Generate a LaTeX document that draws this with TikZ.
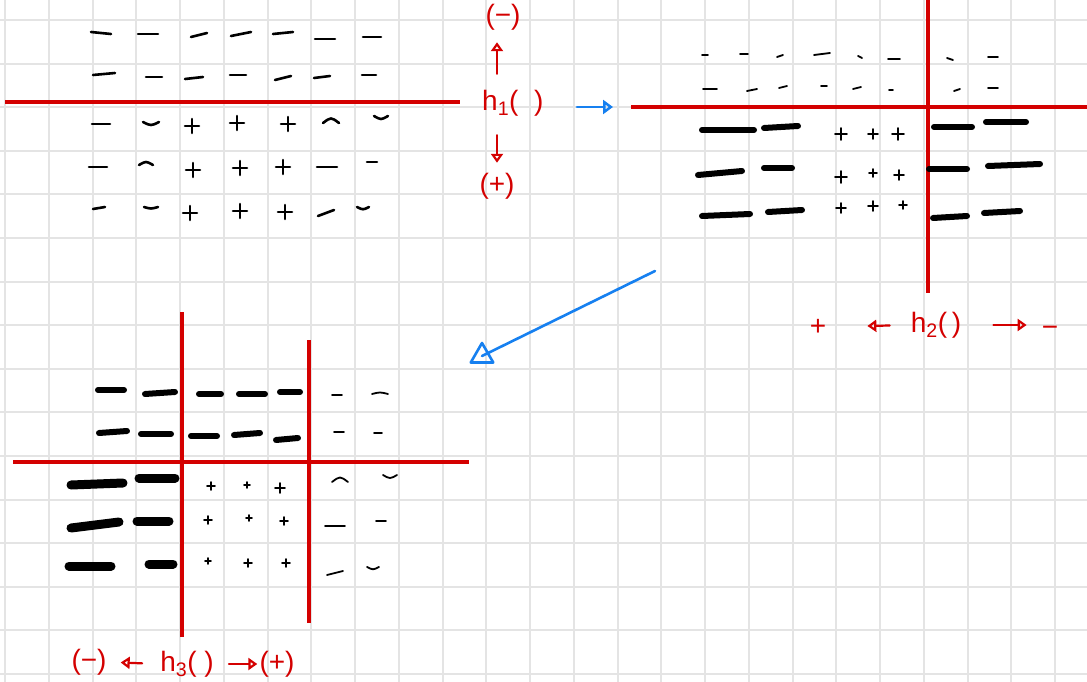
\documentclass[tikz,border=0pt]{standalone}
\usepackage{fontspec}
\setmainfont{Liberation Sans}
\usepackage{xcolor}
\usepackage{tikz}
\usetikzlibrary{arrows.meta, calc, shapes.geometric}
\definecolor{penred}{RGB}{212,0,0}
\definecolor{penblue}{RGB}{22,128,240}
\definecolor{gridgray}{RGB}{228,228,228}
\tikzset{
  gridline/.style={
    draw=gridgray,
    line width=2pt
  },
  axisline/.style={
    draw=penred,
    line width=3.2pt
  },
  thinpen/.style={
    line width=2.6pt,
    line cap=round
  },
  finepen/.style={
    line width=1.8pt,
    line cap=round
  },
  heavypen/.style={
    line width=6pt,
    line cap=round
  },
  boldpen/.style={
    line width=9pt,
    line cap=round
  },
  penlabel/.style={
    text=penred,
    font=\fontsize{28}{32}\selectfont,
    inner sep=1pt
  },
  penarrow/.style={
    draw=penred,
    line width=2.2pt,
    line cap=round,
    -{Triangle[open, length=9pt, width=12pt]}
  },
  bluearrow/.style={
    draw=penblue,
    line width=2.8pt,
    line cap=round,
    -{Triangle[open, length=10pt, width=14pt]}
  },
  tipbox/.style={
    regular polygon,
    regular polygon sides=3,
    draw=penblue,
    line width=2.6pt,
    line join=round,
    minimum size=26pt,
    inner sep=0pt
  }
}

\begin{document}
\begin{tikzpicture}[x=1pt, y=-1pt]
  \fill[white] (0,0) rectangle (1087,682);
  \useasboundingbox (0,0) rectangle (1087,682);
  % grid paper
  \foreach \i in {0,...,24}
    \draw[gridline] ({5+43.75*\i},0) -- ({5+43.75*\i},682);
  \foreach \j in {0,...,15}
    \draw[gridline] (0,{20+43.6*\j}) -- (1087,{20+43.6*\j});

  % first sketch: split by h1
  \draw[axisline] (5,102) -- (460,102);
  \foreach \x/\y/\w/\sl/\bb in {101/33/10/-1/0, 148/34/10/0/0, 199/35/8/2/0, 241/34/10/2/0,
      283/33/10/1/0, 325/39/10/0/0, 372/37/9/0/0,
      104/74/11/1/0, 154/77/8/0/0, 194/78/9/1/0, 238/75/8/0/0, 283/78/8/2/0,
      322/77/8/1/0, 369/75/7/0/0,
      101/124/9/0/0, 151/122/8/0/4, 331/123/8/0/-6, 381/116/7/0/4,
      98/167/9/0/0, 146/165/7/0/-4, 327/167/10/0/0, 372/162/5/0/0,
      99/208/6/1/0, 151/207/7/0/2, 326/213/8/3/0, 363/207/6/0/3}
    \draw[thinpen] (\x-\w,\y+\sl) .. controls (\x,\y+\bb) .. (\x+\w,\y-\sl);
  \foreach \x/\y/\r in {192/126/7, 237/123/7, 288/124/7, 193/170/7, 240/168/7,
      283/167/7, 190/213/7, 240/211/7, 285/212/7}
    \draw[thinpen] (\x-\r,\y) -- (\x+\r,\y) (\x,\y-\r) -- (\x,\y+\r);

  \node[penlabel] (neg1) at (503,17) {(−)};
  \node[penlabel, anchor=west] (h1) at (481,103) {h\textsubscript{1}(\ \ )};
  \node[penlabel] (pos1) at (497,186) {(+)};
  \draw[penarrow, shorten <=15pt, shorten >=11pt] (h1.north -| pos1) -- (neg1.south -| pos1);
  \draw[penarrow, shorten <=18pt, shorten >=9pt] (h1.south -| pos1) -- (pos1.north);

  % second sketch: split by h2
  \draw[axisline] (631,107) -- (1087,107);
  \draw[axisline] (928,0) -- (928,293);
  \foreach \x/\y/\w/\sl/\bb in {705/55/3/0/0, 744/54/4/0/0, 780/56/3/1/0, 822/54/8/1/0,
      860/57/2/-1/0, 894/59/6/0/0, 950/59/3/-1/0, 993/57/5/0/0,
      710/89/7/0/0, 752/90/5/1/0, 783/87/4/1/0, 824/86/3/0/0, 857/88/4/1/0,
      891/90/2/0/0, 957/90/3/1/0, 993/88/5/0/0}
    \draw[finepen] (\x-\w,\y+\sl) .. controls (\x,\y+\bb) .. (\x+\w,\y-\sl);
  \foreach \x/\y/\w/\sl in {728/130/26/0, 781/127/17/1, 953/127/19/0, 1006/122/20/0,
      720/173/22/2, 778/168/14/0, 948/169/19/0, 1014/165/26/1,
      726/215/24/1, 785/211/17/1, 950/217/17/1, 1002/212/18/1}
    \draw[heavypen] (\x-\w,\y+\sl) -- (\x+\w,\y-\sl);
  \foreach \x/\y/\r in {841/134/6, 873/134/5, 898/134/6, 841/177/6, 873/173/4,
      899/175/5, 841/208/5, 873/206/5, 903/205/4}
    \draw[finepen] (\x-\r,\y) -- (\x+\r,\y) (\x,\y-\r) -- (\x,\y+\r);

  \node[penlabel] (pos2) at (818,327) {+};
  \node[penlabel] (h2) at (936,325) {h\textsubscript{2}(\,)};
  \node[penlabel] (neg2) at (1050,331) {−};
  \draw[penarrow, shorten <=20pt, shorten >=40pt] (h2.west) -- (pos2.east);
  \draw[penarrow, shorten <=31pt, shorten >=14pt] (h2.east) -- (neg2.west |- h2.east);

  % third sketch: split by h3
  \draw[axisline] (13,462) -- (469,462);
  \draw[axisline] (182,312) -- (182,637);
  \draw[axisline] (309,340) -- (309,623);
  \foreach \x/\y/\w/\sl in {111/390/13/0, 160/393/15/1, 210/394/11/0, 252/394/13/0,
      290/392/10/0, 113/432/14/1, 156/434/15/0, 204/436/13/0, 247/434/13/1,
      287/439/11/1}
    \draw[heavypen] (\x-\w,\y+\sl) -- (\x+\w,\y-\sl);
  \foreach \x/\y/\w/\sl in {97/484/26/1, 157/478/18/0, 95/525/24/3, 153/521/16/0,
      90/566/21/0, 161/564/12/0}
    \draw[boldpen] (\x-\w,\y+\sl) -- (\x+\w,\y-\sl);
  \foreach \x/\y/\w/\sl/\bb in {337/395/5/0/0, 380/394/8/0/-2, 339/432/5/0/0,
      378/433/4/0/0, 340/482/8/0/-6, 390/475/7/0/4, 335/526/10/0/0,
      381/521/5/0/0, 335/573/8/2/0, 373/567/6/0/3}
    \draw[finepen] (\x-\w,\y+\sl) .. controls (\x,\y+\bb) .. (\x+\w,\y-\sl);
  \foreach \x/\y/\r in {211/486/4, 247/485/3, 280/488/5, 208/520/4, 249/518/3,
      284/521/4, 208/561/3, 248/563/4, 286/563/4}
    \draw[finepen] (\x-\r,\y) -- (\x+\r,\y) (\x,\y-\r) -- (\x,\y+\r);

  \node[penlabel] (neg3) at (89,662) {(−)};
  \node[penlabel] (h3) at (187,664) {h\textsubscript{3}(\ )};
  \node[penlabel] (pos3) at (277,664) {(+)};
  \draw[penarrow, shorten <=17pt, shorten >=13pt] (h3.west) -- (neg3.east);
  \draw[penarrow, shorten <=14pt, shorten >=1pt] (h3.east) -- (pos3.west);

  % blue connectors between sketches
  \coordinate (firstout) at (577,107);
  \coordinate (secondin) at (613,107);
  \draw[bluearrow] (firstout) -- (secondin);
  \coordinate (secondout) at (655,271);
  \node[tipbox] (thirdin) at (482,356) {};
  \draw[draw=penblue, line width=2.6pt, line cap=round] (secondout) -- (thirdin.center);
\end{tikzpicture}
\end{document}
